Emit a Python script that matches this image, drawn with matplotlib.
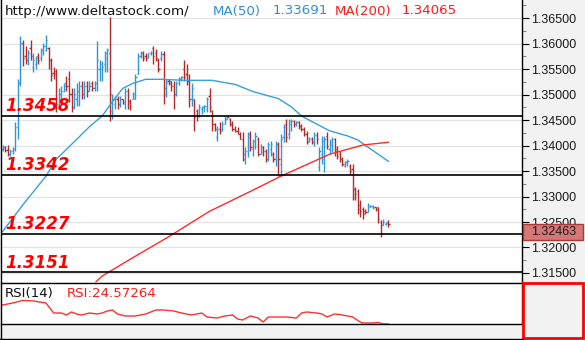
import numpy as np
import matplotlib
matplotlib.use("Agg")
import matplotlib.pyplot as plt
from matplotlib.patches import Rectangle
from matplotlib.lines import Line2D
from matplotlib.ticker import MultipleLocator, FormatStrFormatter

# OHLC bars, oldest first
opens = [
    1.3393, 1.3397, 1.3391, 1.3383, 1.3389, 1.3393, 1.3437, 1.3522,
    1.3601, 1.3575, 1.3567, 1.3591, 1.3555, 1.3561, 1.3575, 1.3571,
    1.3587, 1.3587, 1.3591, 1.3567, 1.3543, 1.3547, 1.3482, 1.3502,
    1.3508, 1.3522, 1.3531, 1.3502, 1.3476, 1.3492, 1.3508, 1.3516,
    1.3502, 1.3516, 1.3508, 1.3522, 1.3512, 1.3522, 1.3551, 1.3551,
    1.3561, 1.3571, 1.3581, 1.3468, 1.3482, 1.3492, 1.3482, 1.3492,
    1.3482, 1.3508, 1.3488, 1.3492, 1.3492, 1.3541, 1.3575, 1.3581,
    1.3575, 1.3575, 1.3581, 1.3591, 1.3581, 1.3567, 1.3571, 1.3579,
    1.3502, 1.3527, 1.3526, 1.3516, 1.3502, 1.3522, 1.3531, 1.3551,
    1.3541, 1.3527, 1.3492, 1.3492, 1.3468, 1.3458, 1.3472, 1.3476,
    1.3472, 1.3498, 1.3468, 1.3442, 1.3417, 1.3433, 1.3433, 1.3442,
    1.3452, 1.3452, 1.3442, 1.3433, 1.3429, 1.3423, 1.3413, 1.3373,
    1.3389, 1.3423, 1.3393, 1.3409, 1.3413, 1.3383, 1.3397, 1.3389,
    1.3373, 1.3393, 1.3383, 1.3373, 1.3403, 1.3363, 1.3417, 1.3442,
    1.3423, 1.3442, 1.3448, 1.3442, 1.3446, 1.3439, 1.3433, 1.3423,
    1.3409, 1.3413, 1.3407, 1.3421, 1.3358, 1.3383, 1.3373, 1.3419,
    1.3393, 1.3403, 1.3413, 1.3393, 1.3383, 1.3373, 1.3360, 1.3367,
    1.3360, 1.3354, 1.3314, 1.3310, 1.3284, 1.3275, 1.3271, 1.3269,
    1.3280, 1.3279, 1.3279, 1.3279, 1.3251, 1.3245, 1.3247, 1.3251,
]
highs = [
    1.3401, 1.3399, 1.3401, 1.3393, 1.3397, 1.3446, 1.3531, 1.3614,
    1.3607, 1.3595, 1.3587, 1.3607, 1.3581, 1.3575, 1.3581, 1.3591,
    1.3601, 1.3616, 1.3593, 1.3571, 1.3555, 1.3551, 1.3512, 1.3516,
    1.3522, 1.3537, 1.3547, 1.3512, 1.3512, 1.3522, 1.3527, 1.3527,
    1.3527, 1.3527, 1.3527, 1.3527, 1.3527, 1.3605, 1.3567, 1.3565,
    1.3585, 1.3591, 1.3652, 1.3502, 1.3498, 1.3498, 1.3498, 1.3492,
    1.3512, 1.3512, 1.3492, 1.3506, 1.3541, 1.3581, 1.3585, 1.3585,
    1.3581, 1.3581, 1.3585, 1.3595, 1.3589, 1.3571, 1.3585, 1.3585,
    1.3531, 1.3531, 1.3527, 1.3527, 1.3527, 1.3535, 1.3537, 1.3567,
    1.3561, 1.3541, 1.3522, 1.3492, 1.3472, 1.3482, 1.3478, 1.3480,
    1.3496, 1.3512, 1.3470, 1.3444, 1.3439, 1.3446, 1.3448, 1.3458,
    1.3458, 1.3454, 1.3448, 1.3439, 1.3437, 1.3427, 1.3427, 1.3397,
    1.3427, 1.3429, 1.3413, 1.3427, 1.3417, 1.3403, 1.3399, 1.3393,
    1.3407, 1.3409, 1.3387, 1.3409, 1.3407, 1.3423, 1.3442, 1.3452,
    1.3452, 1.3452, 1.3450, 1.3448, 1.3448, 1.3442, 1.3437, 1.3429,
    1.3417, 1.3417, 1.3427, 1.3427, 1.3397, 1.3419, 1.3419, 1.3427,
    1.3413, 1.3417, 1.3415, 1.3399, 1.3389, 1.3377, 1.3369, 1.3373,
    1.3363, 1.3363, 1.3318, 1.3314, 1.3294, 1.3279, 1.3275, 1.3288,
    1.3284, 1.3284, 1.3280, 1.3280, 1.3253, 1.3255, 1.3251, 1.3253,
]
lows = [
    1.3389, 1.3387, 1.3379, 1.3379, 1.3383, 1.3389, 1.3413, 1.3516,
    1.3557, 1.3561, 1.3559, 1.3567, 1.3545, 1.3551, 1.3561, 1.3565,
    1.3577, 1.3585, 1.3551, 1.3527, 1.3531, 1.3466, 1.3478, 1.3492,
    1.3506, 1.3508, 1.3486, 1.3466, 1.3472, 1.3478, 1.3478, 1.3492,
    1.3492, 1.3496, 1.3508, 1.3508, 1.3508, 1.3508, 1.3527, 1.3527,
    1.3545, 1.3545, 1.3448, 1.3452, 1.3472, 1.3472, 1.3476, 1.3482,
    1.3472, 1.3472, 1.3470, 1.3492, 1.3492, 1.3541, 1.3571, 1.3565,
    1.3565, 1.3571, 1.3577, 1.3561, 1.3565, 1.3545, 1.3565, 1.3482,
    1.3496, 1.3518, 1.3508, 1.3472, 1.3498, 1.3518, 1.3527, 1.3526,
    1.3518, 1.3476, 1.3478, 1.3429, 1.3448, 1.3456, 1.3462, 1.3466,
    1.3466, 1.3466, 1.3429, 1.3429, 1.3409, 1.3423, 1.3429, 1.3442,
    1.3452, 1.3439, 1.3429, 1.3427, 1.3423, 1.3413, 1.3369, 1.3363,
    1.3377, 1.3389, 1.3379, 1.3393, 1.3379, 1.3383, 1.3379, 1.3367,
    1.3369, 1.3379, 1.3367, 1.3360, 1.3340, 1.3340, 1.3407, 1.3407,
    1.3413, 1.3429, 1.3437, 1.3439, 1.3433, 1.3429, 1.3419, 1.3403,
    1.3407, 1.3403, 1.3399, 1.3403, 1.3350, 1.3363, 1.3348, 1.3393,
    1.3383, 1.3387, 1.3379, 1.3373, 1.3367, 1.3360, 1.3358, 1.3360,
    1.3344, 1.3294, 1.3294, 1.3265, 1.3259, 1.3255, 1.3265, 1.3269,
    1.3279, 1.3275, 1.3271, 1.3249, 1.3221, 1.3245, 1.3245, 1.3241,
]
closes = [
    1.3397, 1.3391, 1.3383, 1.3389, 1.3393, 1.3437, 1.3522, 1.3601,
    1.3571, 1.3567, 1.3581, 1.3575, 1.3567, 1.3571, 1.3567, 1.3587,
    1.3595, 1.3607, 1.3567, 1.3539, 1.3541, 1.3482, 1.3502, 1.3508,
    1.3516, 1.3516, 1.3502, 1.3476, 1.3502, 1.3508, 1.3516, 1.3502,
    1.3516, 1.3508, 1.3516, 1.3512, 1.3522, 1.3567, 1.3561, 1.3555,
    1.3581, 1.3587, 1.3502, 1.3492, 1.3492, 1.3482, 1.3492, 1.3486,
    1.3508, 1.3488, 1.3476, 1.3502, 1.3535, 1.3575, 1.3581, 1.3571,
    1.3571, 1.3581, 1.3583, 1.3575, 1.3571, 1.3551, 1.3579, 1.3512,
    1.3522, 1.3522, 1.3516, 1.3502, 1.3522, 1.3531, 1.3535, 1.3535,
    1.3527, 1.3492, 1.3512, 1.3456, 1.3458, 1.3476, 1.3476, 1.3478,
    1.3492, 1.3476, 1.3442, 1.3433, 1.3433, 1.3429, 1.3442, 1.3452,
    1.3456, 1.3442, 1.3433, 1.3429, 1.3423, 1.3413, 1.3383, 1.3389,
    1.3417, 1.3397, 1.3409, 1.3419, 1.3383, 1.3397, 1.3389, 1.3373,
    1.3403, 1.3403, 1.3373, 1.3403, 1.3373, 1.3413, 1.3437, 1.3417,
    1.3448, 1.3448, 1.3442, 1.3446, 1.3439, 1.3433, 1.3423, 1.3407,
    1.3415, 1.3407, 1.3421, 1.3413, 1.3389, 1.3409, 1.3413, 1.3399,
    1.3407, 1.3413, 1.3389, 1.3379, 1.3373, 1.3363, 1.3367, 1.3369,
    1.3350, 1.3314, 1.3304, 1.3275, 1.3271, 1.3265, 1.3269, 1.3284,
    1.3282, 1.3280, 1.3275, 1.3255, 1.3245, 1.3251, 1.3249, 1.32463,
]

# moving averages (bar index, value)
ma50_idx = [0, 8, 17, 21, 30, 34, 39, 43, 47, 51, 56, 62, 71, 82, 91,
            98, 108, 113, 117, 123, 128, 135, 139, 143, 147, 151]
ma50 = [1.3231, 1.3284, 1.3340, 1.3373, 1.3417, 1.3437, 1.3458, 1.3486,
        1.3512, 1.3522, 1.3530, 1.3530, 1.3528, 1.3528, 1.3520, 1.3506,
        1.3492, 1.3476, 1.3458, 1.3442, 1.3429, 1.3419, 1.3411, 1.3397,
        1.3383, 1.33691]
ma200_idx = [36, 39, 51, 65, 81, 97, 109, 117, 128, 141, 151]
ma200 = [1.3130, 1.3144, 1.3180, 1.3221, 1.3271, 1.3310, 1.3340, 1.3358,
         1.3383, 1.3401, 1.34065]

# RSI(14)
rsi_idx = [0, 4, 8, 12, 17, 20, 23, 25, 27, 29, 31, 34, 37, 39, 41, 43, 45,
           48, 52, 56, 60, 63, 67, 70, 74, 78, 80, 84, 87, 90, 92, 94, 97,
           100, 102, 104, 108, 111, 115, 117, 119, 123, 125, 127, 130, 133,
           137, 140, 141, 145, 147, 149, 151]
rsi = [45.4, 47.6, 50.4, 49.8, 47.6, 36.6, 36.6, 34.4, 37.7, 35.5, 34.4,
       36.6, 35.5, 36.6, 38.8, 39.9, 35.5, 33.3, 33.3, 35.5, 39.9, 39.9,
       38.8, 36.6, 34.4, 36.6, 32.2, 31.1, 33.3, 34.4, 30.0, 28.9, 33.3,
       31.1, 26.7, 32.2, 32.2, 32.2, 31.1, 36.6, 37.7, 36.6, 35.5, 32.2,
       35.5, 34.4, 32.2, 26.7, 25.6, 25.6, 26.2, 24.5, 24.57264]

levels = [1.3458, 1.3342, 1.3227, 1.3151]
level_labels = ["1.3458", "1.3342", "1.3227", "1.3151"]

BLUE = "#2f97d4"
DRED = "#b02a2a"
W, H = 585, 340

fig = plt.figure(figsize=(W / 100, H / 100), dpi=100, facecolor="#f2f2f2")
ax = fig.add_axes([1 / W, 58 / H, 521 / W, 282 / H])
ax2 = fig.add_axes([1 / W, 16 / H, 521 / W, 41 / H])

o = np.array(opens)
hi = np.array(highs)
lo = np.array(lows)
c = np.array(closes)
idx = np.arange(len(c))
cols = np.where(c >= o, BLUE, DRED)

ax.set_facecolor("white")
for v in np.arange(1.315, 1.3651, 0.005):
    ax.axhline(v, color="#e4e4e4", lw=0.9, zorder=0)

ax.vlines(idx, lo, hi, colors=cols, lw=1.0, zorder=3)
ax.hlines(o, idx - 0.45, idx, colors=cols, lw=1.0, zorder=3)
ax.hlines(c, idx, idx + 0.45, colors=cols, lw=1.0, zorder=3)

ax.plot(ma50_idx, ma50, color="#3a9fd8", lw=1.0, zorder=4)
ax.plot(ma200_idx, ma200, color="#ff2a2a", lw=1.0, zorder=4)

for lv, lab in zip(levels, level_labels):
    ax.axhline(lv, color="black", lw=1.2, zorder=5)
    ax.annotate(lab, xy=(0, lv), xycoords=("axes fraction", "data"),
                xytext=(3, 3.5), textcoords="offset points",
                color="#ff0000", fontsize=12, fontweight="bold",
                fontstyle="italic", va="baseline", ha="left", zorder=6)

ax.set_xlim(-0.6, 203.3)
ax.set_ylim(1.31323, 1.36856)
ax.set_xticks([])
ax.yaxis.tick_right()
ax.yaxis.set_major_locator(MultipleLocator(0.005))
ax.yaxis.set_minor_locator(MultipleLocator(0.0025))
ax.yaxis.set_major_formatter(FormatStrFormatter("%.5f"))
ax.tick_params(axis="y", which="major", direction="out", length=5, width=0.8,
               pad=1.5, labelsize=9, labelcolor="#1a1a1a")
ax.tick_params(axis="y", which="minor", direction="out", length=3, width=0.8,
               color="#888888")
for t in ax.get_yticklabels():
    t.set_fontfamily("Liberation Sans")
for s in ["left", "top", "bottom"]:
    ax.spines[s].set_visible(False)
ax.spines["right"].set_linewidth(1.0)

# header line
hy = 1 - 11 / 282
ax.text(4 / 521, hy, "http://www.deltastock.com/", transform=ax.transAxes,
        fontsize=9.6, color="#111111", va="center", ha="left")
ax.text(212 / 521, hy, "MA(50)", transform=ax.transAxes, fontsize=9.6,
        color="#2f8fd0", va="center")
ax.text(272 / 521, hy, "%.5f" % ma50[-1], transform=ax.transAxes,
        fontsize=9.6, color="#2f8fd0", va="center")
ax.text(334 / 521, hy, "MA(200)", transform=ax.transAxes, fontsize=9.6,
        color="#ff1a1a", va="center")
ax.text(401 / 521, hy, "%.5f" % ma200[-1], transform=ax.transAxes,
        fontsize=9.6, color="#ff1a1a", va="center")

# last price tag
last = closes[-1]
tr = ax.get_yaxis_transform()
ax.add_patch(Rectangle((1.002, last - 0.0032), 0.116, 0.0032, transform=tr,
                       facecolor="#d67676", edgecolor="#a83a3a", lw=1.0,
                       clip_on=False, zorder=7))
ax.text(1.06, last - 0.0016, "%.5f" % last, transform=tr, ha="center",
        va="center", fontsize=9, family="Liberation Sans", color="#1a1a1a",
        zorder=8)

# RSI panel
ax2.set_facecolor("white")
ax2.plot(rsi_idx, rsi, color="#ff3030", lw=1.0)
ax2.set_xlim(-0.6, 203.3)
ax2.set_ylim(24.5, 69.6)
ax2.set_xticks([])
ax2.set_yticks([])
for s in ["left"]:
    ax2.spines[s].set_visible(False)
for s in ["top", "bottom", "right"]:
    ax2.spines[s].set_linewidth(1.0)
ax2.text(4 / 521, 0.75, "RSI(14)", transform=ax2.transAxes, fontsize=9.6,
         color="#111111", va="center")
ax2.text(66 / 521, 0.75, "RSI:%.5f" % rsi[-1], transform=ax2.transAxes,
         fontsize=9.6, color="#ff1a1a", va="center")

# window frame and indicator scale box
fig.add_artist(Rectangle((523 / W, 2 / H), 60 / W, 55 / H, fill=False,
                         edgecolor="#ff0000", lw=2, transform=fig.transFigure))
fig.add_artist(Line2D([0.5 / W, 0.5 / W], [0, 1], color="black", lw=1,
                      transform=fig.transFigure))
fig.add_artist(Line2D([0, 523 / W], [1.5 / H, 1.5 / H], color="black", lw=1,
                      transform=fig.transFigure))

fig.savefig("out.png", dpi=100, facecolor=fig.get_facecolor())
